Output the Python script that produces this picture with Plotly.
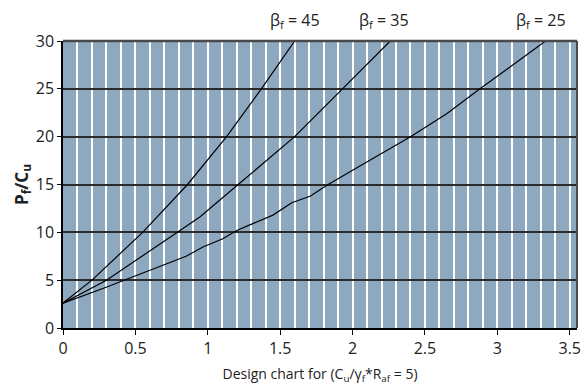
import plotly.graph_objects as go

# Design curves: P_f/C_u against the abscissa for three values of beta_f
x_b45 = [0.0, 0.20, 0.55, 0.86, 1.13, 1.37, 1.60]
y_b45 = [2.6, 5.0, 10.0, 15.0, 20.0, 25.0, 30.0]

x_b35 = [0.0, 0.30, 0.79, 0.945, 1.21, 1.60, 1.93, 2.26]
y_b35 = [2.6, 5.0, 10.0, 11.6, 15.0, 20.0, 25.0, 30.0]

x_b25 = [0.0, 0.28, 0.85, 0.97, 1.10, 1.20, 1.45, 1.58, 1.71, 1.82,
         2.00, 2.19, 2.40, 2.65, 2.88, 3.36]
y_b25 = [2.6, 4.15, 7.5, 8.5, 9.3, 10.2, 11.8, 13.1, 13.8, 14.9,
         16.5, 18.2, 20.0, 22.4, 25.0, 30.3]

curve_labels = ["β<sub>f</sub> = 45", "β<sub>f</sub> = 35", "β<sub>f</sub> = 25"]
label_x = [1.60, 2.22, 3.30]

FONT = "Open Sans"
BG = "#8EA8C0"

fig = go.Figure()
for xs, ys in [(x_b45, y_b45), (x_b35, y_b35), (x_b25, y_b25)]:
    fig.add_trace(go.Scatter(x=xs, y=ys, mode="lines",
                             line=dict(color="black", width=1.2),
                             showlegend=False, hoverinfo="skip"))

for txt, lx in zip(curve_labels, label_x):
    fig.add_annotation(x=lx, xref="x", y=1.072, yref="paper", text=txt,
                       showarrow=False, xanchor="center", yanchor="middle",
                       font=dict(family=FONT, size=16, color="#222"))

# heavier frame along the top and right edges
fig.add_shape(type="line", xref="paper", yref="paper", x0=0, x1=1, y0=1, y1=1,
              line=dict(color="#4a4a4a", width=2.5))
fig.add_shape(type="line", xref="paper", yref="paper", x0=1, x1=1, y0=0, y1=1,
              line=dict(color="#4a4a4a", width=2))

fig.update_xaxes(range=[0, 3.55], tick0=0, dtick=0.5,
                 ticks="outside", ticklen=5, tickcolor="black", tickwidth=1,
                 showgrid=True, gridcolor="white", gridwidth=1.5,
                 minor=dict(tick0=0, dtick=0.1, showgrid=True,
                            gridcolor="white", gridwidth=1.5, ticks=""),
                 showline=True, linecolor="black", linewidth=1.5,
                 zeroline=False,
                 tickfont=dict(family=FONT, size=16, color="#222"),
                 title=dict(text="Design chart for (C<sub>u</sub>/γ<sub>f</sub>*R<sub>af</sub> = 5)",
                            font=dict(family=FONT, size=14, color="#222"),
                            standoff=11))

fig.update_yaxes(range=[0, 30], tick0=0, dtick=5,
                 ticks="outside", ticklen=4, tickcolor="black", tickwidth=1,
                 showgrid=True, gridcolor="#2a2a2a", gridwidth=1.6,
                 showline=True, linecolor="black", linewidth=1.5,
                 zeroline=False,
                 tickfont=dict(family=FONT, size=16, color="#222"),
                 title=dict(text="<b>P<sub>f</sub>/C<sub>u</sub></b>",
                            font=dict(family=FONT, size=17, color="#222"),
                            standoff=3))

fig.update_layout(width=585, height=387,
                  margin=dict(l=63, r=8, t=41, b=59, autoexpand=False),
                  paper_bgcolor="white", plot_bgcolor=BG,
                  font=dict(family=FONT, color="#222"))

fig.write_html("out.html")
